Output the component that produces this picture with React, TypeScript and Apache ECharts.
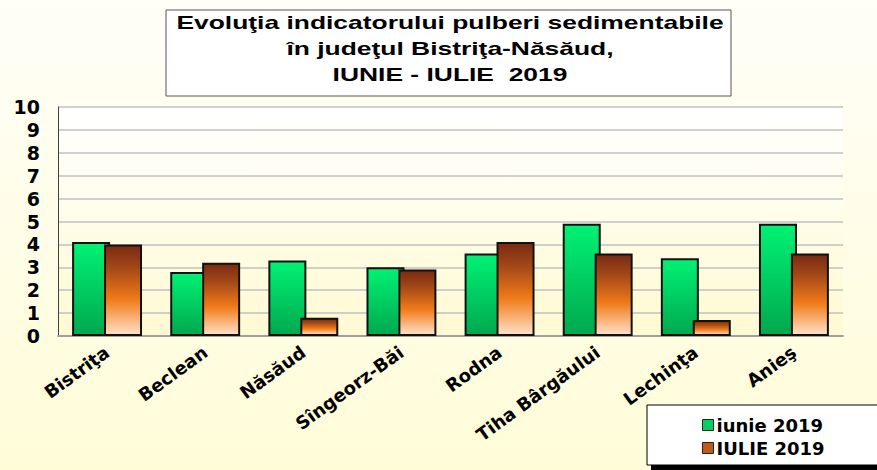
import React, { useEffect, useRef } from "react";
import * as echarts from "echarts";

const categories = ["Bistriţa", "Beclean", "Năsăud", "Sîngeorz-Băi", "Rodna", "Tiha Bârgăului", "Lechinţa", "Anieş"];
const iunie2019 = [4.1, 2.8, 3.3, 3.0, 3.6, 4.9, 3.4, 4.9];
const iulie2019 = [4.0, 3.2, 0.8, 2.9, 4.1, 3.6, 0.7, 3.6];
const seriesNames = ["iunie 2019", "IULIE 2019"];
const titleLines = [
  "Evoluţia indicatorului pulberi sedimentabile",
  "în judeţul Bistriţa-Năsăud,",
  "IUNIE - IULIE  2019",
];

const FONT = "'Liberation Sans', Arial, sans-serif";
const WIDE = "'DejaVu Sans', sans-serif";

export default function App() {
  const ref = useRef<HTMLDivElement>(null);
  useEffect(() => {
    document.body.style.margin = "0";
    const chart = echarts.init(ref.current!, null, { renderer: "svg" });
    const green = new echarts.graphic.LinearGradient(0, 0, 0, 1, [
      { offset: 0, color: "#00F274" },
      { offset: 1, color: "#00A84E" },
    ]);
    const orange = new echarts.graphic.LinearGradient(0, 0, 0, 1, [
      { offset: 0, color: "#7A2A12" },
      { offset: 0.25, color: "#A24818" },
      { offset: 0.6, color: "#F07A18" },
      { offset: 1, color: "#FFE2CA" },
    ]);
    chart.setOption({
      animation: false,
      backgroundColor: new echarts.graphic.LinearGradient(0, 0, 0, 1, [
        { offset: 0, color: "#FFFEF7" },
        { offset: 1, color: "#FFFCD8" },
      ]),
      grid: {
        left: 58,
        right: 34,
        top: 107,
        bottom: 134,
        show: true,
        borderWidth: 0,
        backgroundColor: new echarts.graphic.LinearGradient(0, 0, 0, 1, [
          { offset: 0, color: "#FFFFFF" },
          { offset: 1, color: "#FFFAD2" },
        ]),
      },
      xAxis: {
        type: "category",
        data: categories,
        axisLine: { lineStyle: { color: "#A0A0A0", width: 2 } },
        axisTick: { show: false },
        axisLabel: {
          interval: 0,
          rotate: 36,
          margin: 14,
          color: "#000",
          fontFamily: WIDE,
          fontWeight: "bold",
          fontSize: 18,
        },
      },
      yAxis: {
        type: "value",
        min: 0,
        max: 10,
        interval: 1,
        axisLine: { show: true, lineStyle: { color: "#404040", width: 1 } },
        axisTick: { show: false },
        splitLine: { lineStyle: { color: "#C0C0C0", width: 1.5 } },
        axisLabel: {
          color: "#000",
          fontFamily: WIDE,
          fontWeight: "bold",
          fontSize: 19,
          margin: 18,
        },
      },
      legend: {
        orient: "vertical",
        left: 697,
        top: 411,
        itemGap: 5,
        itemWidth: 11,
        itemHeight: 11,
        icon: "rect",
        textStyle: { color: "#000", fontFamily: WIDE, fontWeight: "bold", fontSize: 18, padding: [0, 0, 0, -2] },
        data: [
          { name: seriesNames[0], itemStyle: { color: "#00D060", borderColor: "#222", borderWidth: 1 } },
          { name: seriesNames[1], itemStyle: { color: "#C05A18", borderColor: "#222", borderWidth: 1 } },
        ],
      },
      graphic: [
        {
          type: "rect",
          shape: { x: 166, y: 10, width: 565, height: 86 },
          style: { fill: "#FFFFFF", stroke: "#555", lineWidth: 1 },
          z: 0,
        },
        ...titleLines.map((t, i) => ({
          type: "text",
          x: 450,
          y: 22 + i * 26,
          scaleX: 1.39,
          style: {
            text: t,
            textAlign: "center",
            textVerticalAlign: "middle",
            font: `bold 19px ${FONT}`,
            fill: "#000",
          },
          z: 1,
        })),
        {
          type: "rect",
          shape: { x: 651, y: 409, width: 240, height: 62 },
          style: { fill: "#000" },
          z: 0,
        },
        {
          type: "rect",
          shape: { x: 647, y: 405, width: 240, height: 60 },
          style: { fill: "#FFFFFF", stroke: "#000", lineWidth: 1 },
          z: 0,
        },
      ],
      series: [
        {
          name: seriesNames[0],
          type: "bar",
          data: iunie2019,
          barWidth: 38,
          barGap: "-16%",
          itemStyle: { color: green, borderColor: "#111", borderWidth: 2 },
        },
        {
          name: seriesNames[1],
          type: "bar",
          data: iulie2019,
          barWidth: 38,
          itemStyle: { color: orange, borderColor: "#111", borderWidth: 2 },
        },
      ],
    });
    return () => chart.dispose();
  }, []);
  return <div ref={ref} style={{ width: 877, height: 470 }} />;
}
